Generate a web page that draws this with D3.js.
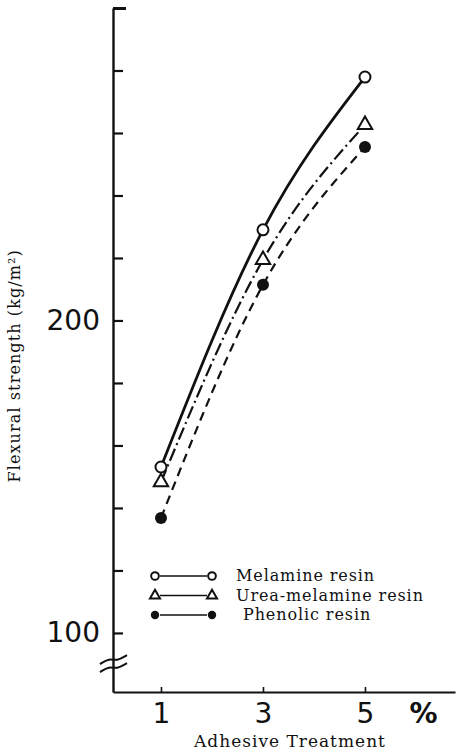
<!DOCTYPE html>
<html>
<head>
<meta charset="utf-8">
<script src="https://cdn.jsdelivr.net/npm/d3@7"></script>
<style>
  body { margin: 0; background: #fff; }
  svg { display: block; }
  .serif { font-family: "DejaVu Serif", "Liberation Serif", serif; fill: #111; }
  .num { font-family: "DejaVu Sans", sans-serif; fill: #111; }
</style>
</head>
<body>
<div id="chart"></div>
<script>
/*
  Flexural strength vs adhesive treatment, three resins
*/

var xValues = [1, 3, 5];
var melamine = [153.1, 229.0, 277.9];
var ureaMelamine = [148.3, 219.4, 262.6];
var phenolic = [136.8, 211.4, 255.5];

var yTicks = [100, 120, 140, 160, 180, 200, 220, 240, 260, 280, 300];
var yTickLabels = [100, 200];
var xTicks = [1, 3, 5];

var seriesNames = ["Melamine resin", "Urea-melamine resin", "Phenolic resin"];

var width = 457, height = 755;

var x = d3.scaleLinear().domain([0.059, 6.765]).range([113, 455]);
var y = d3.scaleLinear().domain([81.1, 300]).range([692, 8]);

var svg = d3.select("#chart").append("svg")
    .attr("width", width)
    .attr("height", height);

// y axis, ticks pointing inward, only 100 and 200 labelled
var yAxis = svg.append("g")
    .attr("transform", "translate(" + x.range()[0] + ",0)")
    .call(d3.axisLeft(y)
      .tickValues(yTicks)
      .tickSizeInner(-10)
      .tickSizeOuter(0)
      .tickPadding(13)
      .tickFormat(function(d) { return yTickLabels.indexOf(d) >= 0 ? d : ""; }));
yAxis.select(".domain").attr("stroke", "#111").attr("stroke-width", 2.4);
yAxis.selectAll(".tick line").attr("stroke", "#111").attr("stroke-width", 2.2);
yAxis.selectAll(".tick text")
    .attr("class", "num")
    .style("font-size", "28px")
    .attr("fill", "#111");
// longer bracket at the top
yAxis.selectAll(".tick").filter(function(d) { return d === 300; })
    .select("line").attr("x2", 13).attr("stroke-width", 3);

// x axis
var xAxis = svg.append("g")
    .attr("transform", "translate(0," + y.range()[0] + ")")
    .call(d3.axisBottom(x)
      .tickValues(xTicks)
      .tickSizeInner(-5)
      .tickSizeOuter(0)
      .tickPadding(11)
      .tickFormat(d3.format("d")));
xAxis.select(".domain").attr("stroke", "#111").attr("stroke-width", 2.2);
xAxis.selectAll(".tick line").attr("stroke", "#111").attr("stroke-width", 1.6);
xAxis.selectAll(".tick text")
    .attr("class", "num")
    .style("font-size", "28px")
    .attr("fill", "#111");

svg.append("text")
    .attr("class", "num")
    .attr("x", x(6.15))
    .attr("y", y.range()[0] + 31)
    .attr("text-anchor", "middle")
    .style("font-size", "28px")
    .style("font-weight", "bold")
    .text("%");

// axis break on y
var breakLine = d3.line().curve(d3.curveBasis);
[-4, 4].forEach(function(off) {
  var yb = y(90) + off;
  svg.append("path")
      .attr("d", breakLine([[x.range()[0] - 13, yb + 4], [x.range()[0] - 4, yb - 2],
                            [x.range()[0] + 4, yb + 1], [x.range()[0] + 14, yb - 5]]))
      .attr("fill", "none")
      .attr("stroke", "#111")
      .attr("stroke-width", 2);
});

// axis titles
svg.append("text")
    .attr("class", "serif")
    .attr("x", d3.mean(x.range()) + 6)
    .attr("y", 747)
    .attr("text-anchor", "middle")
    .style("font-size", "17px")
    .style("letter-spacing", "1px")
    .text("Adhesive Treatment");

svg.append("text")
    .attr("class", "serif")
    .attr("transform", "translate(20," + y(185.5) + ") rotate(-90)")
    .attr("text-anchor", "middle")
    .style("font-size", "16px")
    .style("letter-spacing", "1.1px")
    .text("Flexural strength (kg/m²)");

// series
var series = [
  {name: seriesNames[0], values: melamine, dash: null, width: 2.8, marker: "circle"},
  {name: seriesNames[1], values: ureaMelamine, dash: "13,4,2,4", width: 2.2, marker: "triangle"},
  {name: seriesNames[2], values: phenolic, dash: "9,6", width: 2.2, marker: "dot"}
];

var line = d3.line()
    .x(function(d) { return x(d[0]); })
    .y(function(d) { return y(d[1]); })
    .curve(d3.curveMonotoneX);

function drawMarker(g, type, cx, cy, scale) {
  if (type === "circle") {
    g.append("circle").attr("cx", cx).attr("cy", cy).attr("r", 5.5 * scale)
      .attr("fill", "#fff").attr("stroke", "#111").attr("stroke-width", 2);
  } else if (type === "triangle") {
    g.append("path")
      .attr("d", d3.symbol().type(d3.symbolTriangle).size(90 * scale * scale)())
      .attr("transform", "translate(" + cx + "," + cy + ")")
      .attr("fill", "#fff").attr("stroke", "#111").attr("stroke-width", 2);
  } else {
    g.append("circle").attr("cx", cx).attr("cy", cy).attr("r", 6 * scale)
      .attr("fill", "#111");
  }
}

series.forEach(function(s) {
  var pts = xValues.map(function(v, i) { return [v, s.values[i]]; });
  svg.append("path")
      .datum(pts)
      .attr("d", line)
      .attr("fill", "none")
      .attr("stroke", "#111")
      .attr("stroke-width", s.width)
      .attr("stroke-dasharray", s.dash);
  var g = svg.append("g");
  pts.forEach(function(p) { drawMarker(g, s.marker, x(p[0]), y(p[1]), 1); });
});

// legend
var legend = svg.append("g").attr("transform", "translate(155,576)");
series.forEach(function(s, i) {
  var row = legend.append("g").attr("transform", "translate(0," + (i * 19.5) + ")");
  row.append("line").attr("x1", 5).attr("x2", 52).attr("y1", 0).attr("y2", 0)
      .attr("stroke", "#111").attr("stroke-width", 1.3);
  drawMarker(row, s.marker, 0, 0, 0.7);
  drawMarker(row, s.marker, 57, 0, 0.7);
  row.append("text")
      .attr("class", "serif")
      .attr("x", i === 2 ? 88 : 81)
      .attr("y", 5)
      .style("font-size", "16px")
      .style("letter-spacing", "0.9px")
      .text(s.name);
});
</script>
</body>
</html>
